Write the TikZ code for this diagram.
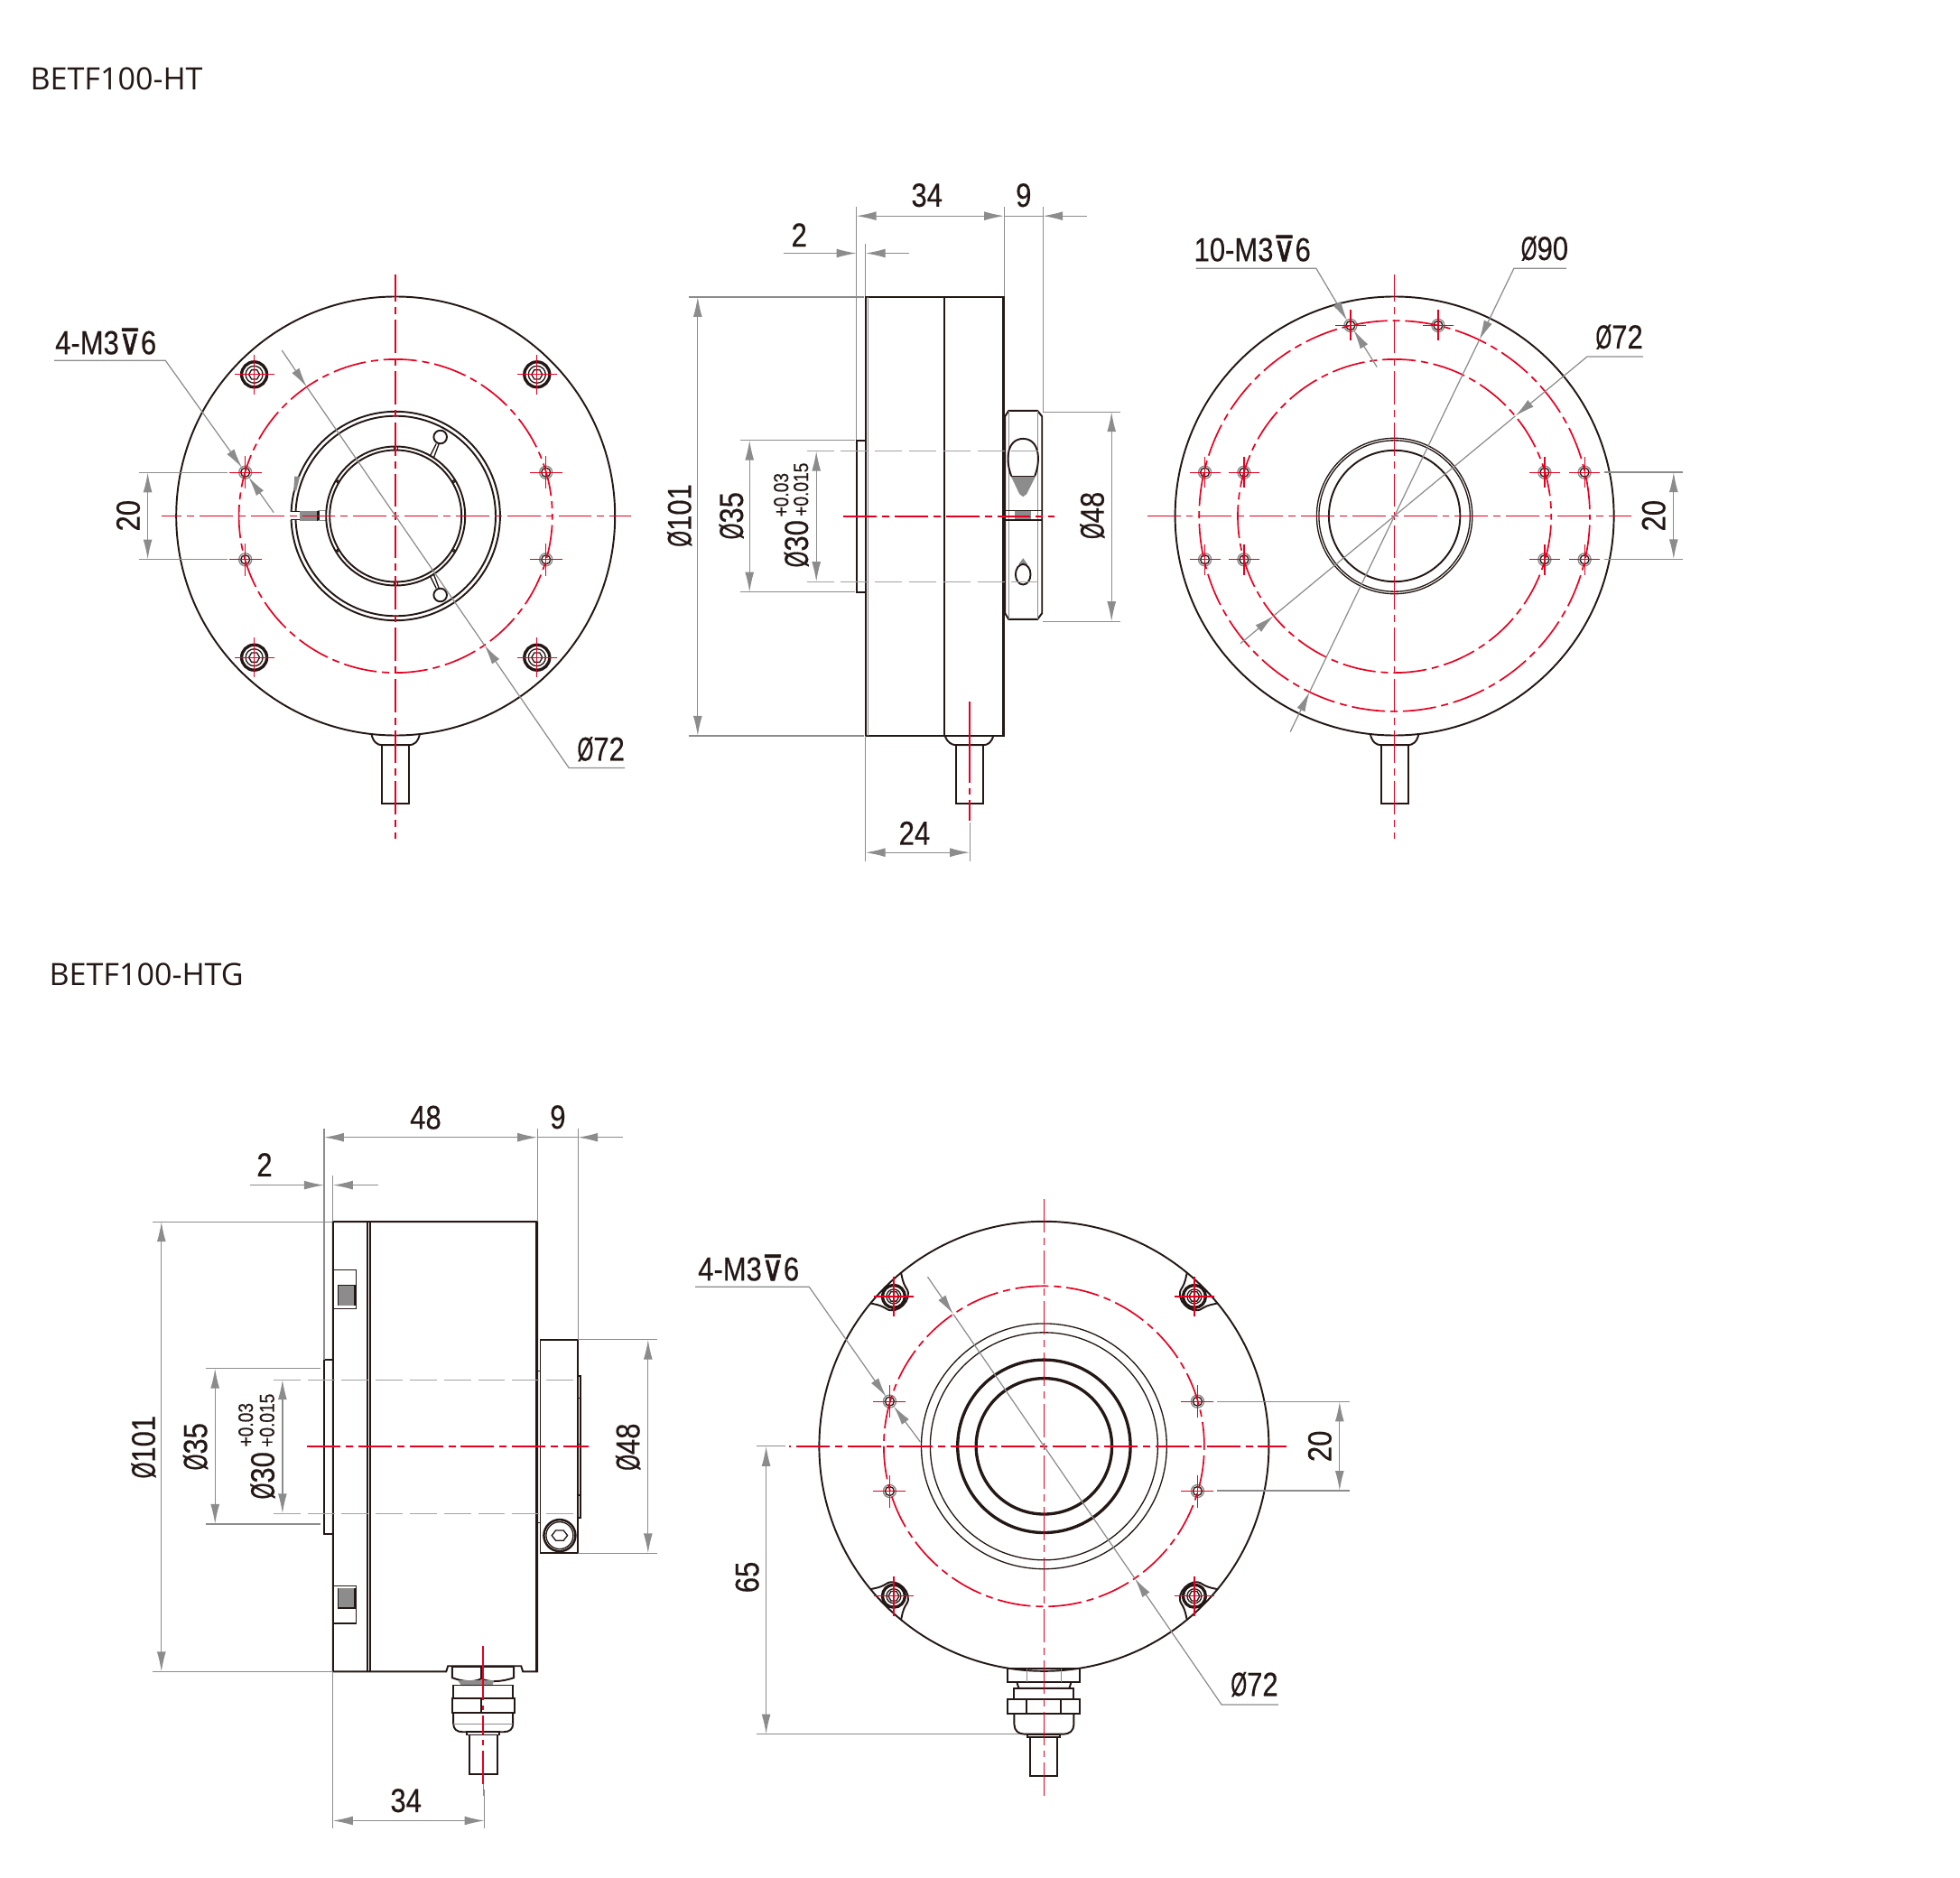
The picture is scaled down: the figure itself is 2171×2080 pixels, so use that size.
\documentclass[tikz,border=0pt]{standalone}
\usepackage{fontspec}
\setmainfont{Open Sans}
\newfontfamily\dimfont[FakeStretch=0.84,FakeBold=0.4]{Liberation Sans}
\newfontfamily\diafont[FakeStretch=0.62,FakeBold=0.4]{Liberation Sans}
\newfontfamily\deepfont[FakeStretch=0.85,FakeBold=1.5]{DejaVu Sans}
\usetikzlibrary{arrows.meta}
\definecolor{inkblack}{HTML}{231815}
\definecolor{cadred}{HTML}{E60020}
\definecolor{dimgray}{HTML}{8C8C8C}
\newcommand{\dia}{{\diafont Ø}}
\newcommand{\deep}{{\deepfont\fontsize{22}{22}\selectfont ⊽}}
\tikzset{
  part/.style={draw=inkblack,line width=1.1pt},
  thinpart/.style={draw=inkblack,line width=0.75pt},
  thickpart/.style={draw=inkblack,line width=1.9pt},
  graypart/.style={draw=dimgray,line width=0.8pt},
  redline/.style={draw=cadred,line width=0.95pt},
  crossline/.style={draw=cadred,line width=0.7pt},
  centerline/.style={redline,dash pattern=on 21pt off 3.4pt on 4.5pt off 3.4pt,dash phase=26.6pt},
  hiddenline/.style={draw=dimgray!80,line width=0.7pt,dash pattern=on 17pt off 4.5pt},
  dimline/.style={draw=dimgray,line width=0.7pt},
  dimarrow/.style={dimline,-{Latex[length=12.5pt,width=5.6pt,fill=dimgray]}},
  dimboth/.style={dimline,{Latex[length=12.5pt,width=5.6pt,fill=dimgray]}-{Latex[length=12.5pt,width=5.6pt,fill=dimgray]}},
  dimtext/.style={inner sep=0pt,text=inkblack,font=\dimfont\fontsize{21}{22}\selectfont},
  toltext/.style={inner sep=0pt,text=inkblack,rotate=90,font=\dimfont\fontsize{13}{14}\selectfont},
  titletext/.style={inner sep=0pt,anchor=west,text=inkblack,font=\fontsize{19.4}{22}\selectfont}
}
\newcommand{\holemark}[3]{
  \draw[graypart] (#1,#2) circle[radius=7];
  \draw[thinpart] (#1,#2) circle[radius=5];
  \draw[crossline] (#1-#3,#2) -- (#1+#3,#2) (#1,#2-#3) -- (#1,#2+#3);
}
\newcommand{\capscrew}[3]{
  \draw[thickpart] (#1,#2) circle[radius=#3];
  \draw[thinpart] (#1,#2) circle[radius=#3-4.5];
  \draw[thinpart] (#1+6,#2) -- (#1+3,#2+5.2) -- (#1-3,#2+5.2) -- (#1-6,#2) -- (#1-3,#2-5.2) -- (#1+3,#2-5.2) -- cycle;
  \draw[crossline] (#1-22,#2) -- (#1+22,#2) (#1,#2-22) -- (#1,#2+22);
}
\newcommand{\cornerboss}[1]{
  \begin{scope}[shift={(frontHTG)},rotate=#1]
    \draw[part] (248,-24) .. controls (243,-21) and (240,-18) .. (232,-16) .. controls (217,-14) and (217,14) .. (232,16) .. controls (240,18) and (243,21) .. (248,24);
  \end{scope}
}
\newcommand{\cablestub}[1]{
  \draw[part] (#1-27,813) .. controls (#1-25,823) and (#1-20,826) .. (#1-15,826) -- (#1+15,826) .. controls (#1+20,826) and (#1+25,823) .. (#1+27,813);
  \draw[part] (#1-15,826) rectangle (#1+15,891);
}
\begin{document}
\begin{tikzpicture}[x=0.2mm,y=-0.2mm]
\useasboundingbox (0.8,0.8) rectangle (2171.8,2080.8);
\node[titletext](titleHT) at (34,88) {BETF100-HT};
\node[titletext](titleHTG) at (55,1080) {BETF100-HTG};
\coordinate (frontHT) at (439,572.3);
\coordinate (backHT) at (1545.4,572.3);
\coordinate (frontHTG) at (1157.2,1602.6);

% front of the HT
\draw[part] (frontHT) circle[radius=243];
\cablestub{439}
\begin{scope}[shift={(frontHT)}]
  \draw[part] (0,0) circle[radius=115.7];
  \draw[part] (0,0) circle[radius=110.8];
  \fill[white] (-118,-5) rectangle (-104,4);
  \draw[part] (-116,-5) -- (-106,-5) (-116,4) -- (-106,4);
  \fill[dimgray] (-106,-6) rectangle (-86,5);
  \draw[thickpart] (-86,-6) -- (-86,5);
  \draw[graypart] (-86,-6) -- (-77,-6) (-86,5) -- (-77,5);
  \fill[dimgray] (-112,-44) -- (-106,-44) -- (-110,-28) -- (-113,-28) -- cycle;
  \draw[part] (0,0) circle[radius=77];
  \draw[part] (0,0) circle[radius=73];
  \draw[thinpart] (-2,-77) rectangle (2,-73) (-2,73) rectangle (2,77);
  \draw[thinpart] (-64,-38) circle[radius=1.5] (64,-38) circle[radius=1.5] (-64,38) circle[radius=1.5] (64,38) circle[radius=1.5];
  \draw[thinpart] (38,-66) -- (45,-80) (42,-64) -- (48,-80);
  \draw[thinpart] (38,66) -- (45,80) (42,64) -- (48,80);
  \draw[part] (49.5,-87.5) circle[radius=7.3];
  \draw[part] (49.5,87.5) circle[radius=7.3];
  \holemark{-166.5}{-48.3}{18}
  \holemark{166.5}{-48.3}{18}
  \holemark{-166.5}{48.3}{18}
  \holemark{166.5}{48.3}{18}
  \capscrew{-156.6}{-156.7}{14}
  \capscrew{156.6}{-156.7}{14}
  \capscrew{-156.6}{156.7}{14}
  \capscrew{156.6}{156.7}{14}
\end{scope}
\draw[centerline] (frontHT) circle[radius=173.6];
\draw[centerline] (frontHT) -- (180,572.3) (frontHT) -- (700,572.3) (frontHT) -- (439,305) (frontHT) -- (439,930);
\draw[dimline] (154.3,524.1) -- (252.4,524.1) (154.3,620.3) -- (252.4,620.3);
\draw[dimboth] (164.4,524.1) -- (164.4,620.3);
\node[dimtext,rotate=90](frontHTtwenty) at (142.8,572) {20};
\node[dimtext](frontHTholes) at (118,379) {4-M3\deep 6};
\draw[dimarrow] (61,400) -- (184,400) -- (269,519);
\draw[dimarrow] (304,568.5) -- (276,529);
\node[dimtext](frontHTpitch) at (666.5,830.5) {\dia72};
\draw[dimarrow] (693,851.4) -- (631,851.4) -- (537.4,715.4);
\draw[dimline] (537.4,715.4) -- (340.6,429.4);
\draw[dimarrow] (313,388.8) -- (340.6,429.4);

% side of the HT
\draw[part] (959.5,329.7) rectangle (1113,815.7);
\draw[part] (1046.5,329.7) -- (1046.5,815.7);
\draw[thickpart] (1112.5,329.7) -- (1112.5,815.7);
\draw[graypart] (962.5,329.7) -- (962.5,815.7);
\draw[part] (959.5,488.4) -- (949.4,488.4) -- (949.4,656.5) -- (959.5,656.5);
\draw[part] (1114,462) -- (1118,455.7) -- (1150,455.7) -- (1155,462) -- (1155,680) -- (1150,686.7) -- (1118,686.7) -- (1114,680) -- cycle;
\draw[graypart] (1118,455.7) -- (1118,686.7) (1150,455.7) -- (1150,686.7);
\fill[dimgray] (1120.5,528) -- (1148,528) -- (1138,548) -- (1134,551) -- (1130,548) -- cycle;
\draw[part] (1121,528) .. controls (1114,510) and (1116,487) .. (1134,486.7) .. controls (1152,487) and (1154,510) .. (1147,528);
\draw[thinpart] (1121,528) -- (1147,528);
\fill[dimgray] (1124.3,566) rectangle (1143,576.7);
\draw[thinpart] (1114,566) -- (1155,566) (1114,576.7) -- (1155,576.7);
\fill[dimgray] (1129,626) -- (1139,626) -- (1134,619) -- cycle;
\draw[part] (1134,637) ellipse[x radius=8.3,y radius=11.3];
\draw[part] (1047.6,816) .. controls (1050,823) and (1055,826) .. (1060,826) -- (1090,826) .. controls (1095,826) and (1099,823) .. (1101,816);
\draw[part] (1060,826) rectangle (1090,891);
\draw[redline,dash pattern=on 21pt off 3.4pt on 4.5pt off 3.4pt] (935,572.7) -- (1169,572.7);
\draw[redline,dash pattern=on 51pt off 3.4pt on 4pt off 3.4pt] (1075,778) -- (1075,909.5);
\draw[hiddenline] (894.5,500.4) -- (1157,500.4);
\draw[hiddenline] (894.5,645) -- (1157,645);
\draw[dimline] (949.4,230) -- (949.4,488);
\draw[dimline] (959.5,271) -- (959.5,329);
\draw[dimline] (959.5,816) -- (959.5,955);
\draw[dimline] (1113,230) -- (1113,329);
\draw[dimline] (1156,230) -- (1156,457);
\draw[dimline] (763.5,329.7) -- (958,329.7) (763.5,815.7) -- (958,815.7);
\draw[dimline] (821,488.4) -- (948,488.4) (821,656.5) -- (948,656.5);
\draw[dimline] (1156,457) -- (1242,457) (1156,689) -- (1242,689);
\draw[dimline] (1075,912) -- (1075,955);
\draw[dimboth] (949.4,240) -- (1113,240);
\draw[dimline] (1113,240) -- (1156,240);
\draw[dimarrow] (1205,240) -- (1156,240);
\draw[dimarrow] (869,281.3) -- (949.4,281.3);
\draw[dimarrow] (1008,281.3) -- (959.5,281.3);
\draw[dimboth] (773.6,329.7) -- (773.6,815.7);
\draw[dimboth] (831,488.4) -- (831,656.5);
\draw[dimboth] (905,500.4) -- (905,645);
\draw[dimboth] (1232,457) -- (1232,689);
\draw[dimboth] (959.5,945) -- (1075,945);
\node[dimtext](sideHTbody) at (1027.5,217) {34};
\node[dimtext](sideHTcollar) at (1134.6,217) {9};
\node[dimtext](sideHTstep) at (886,261) {2};
\node[dimtext](sideHTcable) at (1013.7,923.5) {24};
\node[dimtext,rotate=90](sideHTouter) at (753.5,571.7) {\dia101};
\node[dimtext,rotate=90](sideHThub) at (811,572) {\dia35};
\node[dimtext,rotate=90](sideHTbore) at (883,603) {\dia30};
\node[toltext](sideHTlower) at (888,543) {+0.015};
\node[toltext](sideHTupper) at (866,549) {+0.03};
\node[dimtext,rotate=90](sideHTclamp) at (1210.7,571.7) {\dia48};

% back of the HT
\draw[part] (backHT) circle[radius=243];
\cablestub{1545.4}
\begin{scope}[shift={(backHT)}]
  \draw[thinpart] (0,0) circle[radius=86.2];
  \draw[thinpart] (0,0) circle[radius=83.7];
  \draw[part] (0,0) circle[radius=72.7];
  \holemark{-210}{-48.3}{17}
  \holemark{-166.7}{-48.3}{17}
  \holemark{166.3}{-48.3}{17}
  \holemark{210.5}{-48.3}{17}
  \holemark{-210}{48.3}{17}
  \holemark{-166.7}{48.3}{17}
  \holemark{166.3}{48.3}{17}
  \holemark{210.5}{48.3}{17}
  \holemark{-48.7}{-211}{17}
  \holemark{48.3}{-211}{17}
\end{scope}
\draw[centerline] (backHT) circle[radius=216.4];
\draw[centerline] (backHT) circle[radius=173.6];
\draw[centerline] (backHT) -- (1269,572.3) (backHT) -- (1807.5,572.3) (backHT) -- (1545.4,305) (backHT) -- (1545.4,930);
\node[dimtext](backHTholes) at (1388,276) {10-M3\deep 6};
\draw[dimarrow] (1325.5,298) -- (1458.6,298) -- (1493,356);
\draw[dimarrow] (1526,407.3) -- (1500,366);
\node[dimtext](backHTouter) at (1711.7,276) {\dia90};
\draw[dimarrow] (1736,298) -- (1677.7,298) -- (1639.4,377.3);
\draw[dimline] (1639.4,377.3) -- (1451.4,767.1);
\draw[dimarrow] (1430,811.3) -- (1451.4,767.1);
\node[dimtext](backHTinner) at (1794.4,374) {\dia72};
\draw[dimarrow] (1821,395.8) -- (1758.8,395.8) -- (1679.2,461.6);
\draw[dimline] (1679.2,461.6) -- (1411.6,682.8);
\draw[dimarrow] (1374.7,713.6) -- (1411.6,682.8);
\draw[dimline] (1778,523.9) -- (1864.4,523.9) (1778,620.1) -- (1864.4,620.1);
\draw[dimboth] (1854.6,523.9) -- (1854.6,620.1);
\node[dimtext,rotate=90](backHTtwenty) at (1832.5,572) {20};

% side of the HTG
\draw[part] (369.6,1354) -- (596,1354) -- (596,1852.2) -- (580,1852.2) -- (578,1846) -- (497,1846) -- (495,1852.2) -- (369.6,1852.2) -- cycle;
\draw[part] (407.7,1354) -- (407.7,1852.2) (410.4,1354) -- (410.4,1852.2);
\draw[thickpart] (595.5,1354) -- (595.5,1852.2);
\draw[part] (369.6,1507) -- (359.7,1507) -- (359.7,1699.7) -- (369.6,1699.7);
\draw[thinpart] (370,1407) -- (395,1407) -- (395,1450) -- (370,1450);
\fill[dimgray] (375,1424.5) rectangle (393.8,1446.6);
\draw[thinpart] (375,1446.6) -- (375,1424.5) -- (393.8,1424.5) -- (393.8,1446.6);
\draw[thinpart] (370,1757) -- (395,1757) -- (395,1798.8) -- (370,1798.8);
\fill[dimgray] (375,1760) rectangle (393.8,1781.7);
\draw[thinpart] (375,1760) -- (375,1781.7) -- (393.8,1781.7) -- (393.8,1760);
\draw[part] (599.3,1484.5) rectangle (640.9,1721.2);
\draw[thinpart] (596,1519) -- (599.3,1519) (596,1687) -- (599.3,1687);
\draw[part] (640.9,1525) -- (643.7,1525) -- (643.7,1681.6) -- (640.9,1681.6);
\draw[thinpart] (640.9,1549.5) -- (643.7,1549.5) (640.9,1600.6) -- (643.7,1600.6) (640.9,1656.8) -- (643.7,1656.8);
\draw[thickpart,line width=1.4pt] (620.7,1701.4) circle[radius=17.5];
\draw[thinpart] (620.7,1701.4) circle[radius=15];
\draw[thinpart] (629.4,1701.4) -- (625,1707) -- (616.4,1707) -- (612,1701.4) -- (616.4,1695.8) -- (625,1695.8) -- cycle;
\draw[part] (501.7,1846.7) -- (570,1846.7) -- (570,1859) .. controls (555,1864) and (542,1864) .. (534,1860) .. controls (526,1864) and (515,1864) .. (501.7,1859) -- cycle;
\fill[dimgray] (508,1862) -- (548,1862) -- (546,1868) -- (512,1868) -- cycle;
\draw[part] (503,1867.3) rectangle (569,1882);
\draw[part] (501.7,1882) rectangle (570.7,1897.7);
\draw[part] (534,1846.7) -- (534,1860) (534,1882) -- (534,1897.7);
\draw[part] (503,1897.7) -- (503,1910) .. controls (503,1916) and (507,1919) .. (513,1919) -- (559,1919) .. controls (565,1919) and (569,1916) .. (569,1910) -- (569,1897.7);
\draw[graypart] (503,1910) -- (569,1910);
\draw[part] (518,1919) rectangle (554,1922.3);
\draw[part] (520.7,1922.3) rectangle (551.7,1966);
\draw[redline,dash pattern=on 21pt off 3.4pt on 4.5pt off 3.4pt] (341,1602.9) -- (652.8,1602.9);
\draw[redline,dash pattern=on 34pt off 3.4pt on 3pt off 3.4pt on 12pt off 3.4pt on 3pt off 3.4pt] (536,1824) -- (536,1977);
\draw[dimline] (536,1977) -- (536,1990);
\draw[hiddenline] (303.7,1529) -- (641,1529);
\draw[hiddenline] (303.7,1677) -- (641,1677);
\draw[dimline] (359.7,1250.6) -- (359.7,1507);
\draw[dimline] (369.6,1303) -- (369.6,1354);
\draw[dimline] (369.6,1852.2) -- (369.6,2025.5);
\draw[dimline] (596,1250.6) -- (596,1354);
\draw[dimline] (641,1250.6) -- (641,1484.5);
\draw[dimline] (537.4,1982.6) -- (537.4,2025.5);
\draw[dimline] (169.7,1354) -- (369,1354) (169.7,1852.2) -- (369,1852.2);
\draw[dimline] (228.4,1516.5) -- (356,1516.5) (228.4,1688.7) -- (356,1688.7);
\draw[dimline] (641,1484.5) -- (729,1484.5) (641,1721.2) -- (729,1721.2);
\draw[dimboth] (359.7,1260.5) -- (596,1260.5);
\draw[dimline] (596,1260.5) -- (641,1260.5);
\draw[dimarrow] (690.5,1260.5) -- (641,1260.5);
\draw[dimarrow] (277.6,1313.4) -- (359.7,1313.4);
\draw[dimarrow] (419.6,1313.4) -- (369.6,1313.4);
\draw[dimboth] (179.6,1354) -- (179.6,1852.2);
\draw[dimboth] (239,1516.5) -- (239,1688.7);
\draw[dimboth] (313.7,1529) -- (313.7,1677);
\draw[dimboth] (718.6,1484.5) -- (718.6,1721.2);
\draw[dimboth] (369.6,2017.3) -- (537.4,2017.3);
\node[dimtext](sideHTGbody) at (472.3,1238.5) {48};
\node[dimtext](sideHTGcollar) at (618.7,1238) {9};
\node[dimtext](sideHTGstep) at (293.8,1290.8) {2};
\node[dimtext](sideHTGcable) at (450.5,1995) {34};
\node[dimtext,rotate=90](sideHTGouter) at (159.8,1603.4) {\dia101};
\node[dimtext,rotate=90](sideHTGhub) at (217.3,1603) {\dia35};
\node[dimtext,rotate=90](sideHTGbore) at (291.8,1635) {\dia30};
\node[toltext](sideHTGlower) at (296.6,1574) {+0.015};
\node[toltext](sideHTGupper) at (273,1579) {+0.03};
\node[dimtext,rotate=90](sideHTGclamp) at (696.4,1603.4) {\dia48};

% front of the HTG
\draw[part] (frontHTG) circle[radius=249];
\cornerboss{45}
\cornerboss{135}
\cornerboss{225}
\cornerboss{315}
\begin{scope}[shift={(frontHTG)}]
  \draw[thinpart] (0,0) circle[radius=135.9];
  \draw[thinpart] (0,0) circle[radius=126];
  \draw[thickpart] (0,0) circle[radius=95.7];
  \draw[thickpart] (0,0) circle[radius=75.2];
  \holemark{-171}{-49.7}{18}
  \holemark{170}{-49.7}{18}
  \holemark{-171}{49.7}{18}
  \holemark{170}{49.7}{18}
  \capscrew{-166.5}{-165.9}{12.5}
  \capscrew{166.5}{-165.9}{12.5}
  \capscrew{-166.5}{165.9}{12.5}
  \capscrew{166.5}{165.9}{12.5}
  \draw[part] (-40,246.5) rectangle (40,261.5);
  \draw[graypart] (-19,246.5) -- (-19,261.5) (19,246.5) -- (19,261.5);
  \draw[part] (-30,261.5) -- (-28,268) -- (28,268) -- (30,261.5);
  \draw[part] (-33,268) rectangle (33,280.5);
  \draw[part] (-40,280.5) rectangle (40,296.5);
  \draw[part] (-19,280.5) -- (-19,296.5) (19,280.5) -- (19,296.5);
  \draw[part] (-33,296.5) -- (-33,308) .. controls (-33,315) and (-28,318.8) .. (-22,318.8) -- (22,318.8) .. controls (28,318.8) and (33,315) .. (33,308) -- (33,296.5);
  \draw[part] (-18,318.8) rectangle (18,322);
  \draw[part] (-15,322) rectangle (15,365.5);
\end{scope}
\draw[centerline] (frontHTG) circle[radius=177.5];
\draw[centerline] (frontHTG) -- (875,1602.6) (frontHTG) -- (1426,1602.6) (frontHTG) -- (1157.2,1329) (frontHTG) -- (1157.2,1991.7);
\node[dimtext](frontHTGholes) at (830,1405) {4-M3\deep 6};
\draw[dimarrow] (771,1426) -- (897,1426) -- (982.5,1548);
\draw[dimarrow] (1020,1597.6) -- (990.5,1558);
\node[dimtext](frontHTGpitch) at (1390.3,1866.3) {\dia72};
\draw[dimarrow] (1417,1888.7) -- (1353.8,1888.7) -- (1257.7,1748.9);
\draw[dimline] (1257.7,1748.9) -- (1056.7,1456.3);
\draw[dimarrow] (1028.3,1415) -- (1056.7,1456.3);
\draw[dimline] (1349,1553.3) -- (1495.4,1553.3) (1349,1651.8) -- (1495.4,1651.8);
\draw[dimboth] (1484.6,1553.3) -- (1484.6,1651.8);
\node[dimtext,rotate=90](frontHTGtwenty) at (1462.7,1602.6) {20};
\draw[dimline] (839,1602.6) -- (871,1602.6) (839,1921.4) -- (1129.6,1921.4);
\draw[dimboth] (849.4,1602.6) -- (849.4,1921.4);
\node[dimtext,rotate=90](frontHTGoffset) at (828.4,1747.7) {65};
\end{tikzpicture}
\end{document}
